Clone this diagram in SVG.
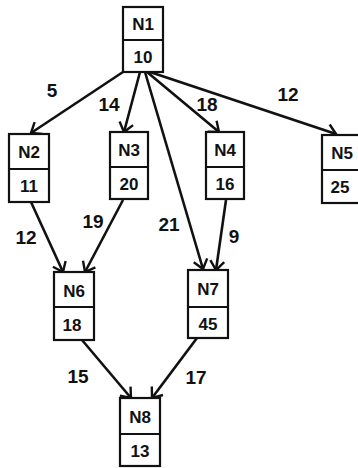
<svg xmlns="http://www.w3.org/2000/svg" width="358" height="468" viewBox="0 0 358 468">
<style>
.box{fill:#fff;stroke:#111;stroke-width:2.2}
.nt{font-family:"Liberation Sans",Arial,sans-serif;font-weight:bold;font-size:17px;fill:#111;text-anchor:middle}
.el{font-family:"Liberation Sans",Arial,sans-serif;font-weight:bold;font-size:19px;fill:#111;text-anchor:middle}
.edge{stroke:#111;stroke-width:2.6;fill:none;marker-end:url(#ah)}
</style>
<defs>
<marker id="ah" markerUnits="userSpaceOnUse" markerWidth="18" markerHeight="18" viewBox="-12 -9 14 18" refX="0" refY="0" orient="auto">
<path d="M-9,-7 L0,0 L-9,7" fill="none" stroke="#111" stroke-width="2.4"/>
</marker>
</defs>
<rect width="358" height="468" fill="#fff"/>
<g id="connectors">
<line class="edge" x1="123" y1="72" x2="31" y2="133"/>
<line class="edge" x1="140" y1="72" x2="124" y2="132"/>
<line class="edge" x1="145" y1="72" x2="203" y2="269"/>
<line class="edge" x1="147" y1="72" x2="219" y2="132"/>
<line class="edge" x1="150" y1="72" x2="336" y2="134"/>
<line class="edge" x1="31" y1="202" x2="63" y2="272"/>
<line class="edge" x1="123" y1="200" x2="85" y2="272"/>
<line class="edge" x1="226" y1="200" x2="216" y2="270"/>
<line class="edge" x1="82" y1="340" x2="131" y2="398"/>
<line class="edge" x1="197" y1="338" x2="152" y2="398"/>
</g>
<g id="labels">
<text class="el" x="52" y="97">5</text>
<text class="el" x="109" y="111">14</text>
<text class="el" x="207" y="111">18</text>
<text class="el" x="288" y="101">12</text>
<text class="el" x="26" y="244">12</text>
<text class="el" x="93" y="228">19</text>
<text class="el" x="169" y="231">21</text>
<text class="el" x="234" y="243">9</text>
<text class="el" x="78" y="383">15</text>
<text class="el" x="196" y="384">17</text>
</g>
<g id="N1"><rect class="box" x="123" y="7" width="40" height="65"/><line class="box" x1="123" y1="40" x2="163" y2="40"/><text class="nt" x="143" y="30">N1</text><text class="nt" x="143" y="63">10</text></g>
<g id="N2"><rect class="box" x="9" y="134" width="40" height="68"/><line class="box" x1="9" y1="169" x2="49" y2="169"/><text class="nt" x="29" y="158">N2</text><text class="nt" x="29" y="192">11</text></g>
<g id="N3"><rect class="box" x="110" y="132" width="38" height="67"/><line class="box" x1="110" y1="167" x2="148" y2="167"/><text class="nt" x="129" y="156">N3</text><text class="nt" x="129" y="190">20</text></g>
<g id="N4"><rect class="box" x="206" y="132" width="38" height="67"/><line class="box" x1="206" y1="167" x2="244" y2="167"/><text class="nt" x="225" y="156">N4</text><text class="nt" x="225" y="190">16</text></g>
<g id="N5"><rect class="box" x="322" y="135" width="40" height="68"/><line class="box" x1="322" y1="170" x2="362" y2="170"/><text class="nt" x="342" y="159">N5</text><text class="nt" x="340" y="193">25</text></g>
<g id="N6"><rect class="box" x="54" y="272" width="40" height="68"/><line class="box" x1="54" y1="307" x2="94" y2="307"/><text class="nt" x="74" y="297">N6</text><text class="nt" x="72" y="331">18</text></g>
<g id="N7"><rect class="box" x="188" y="270" width="40" height="68"/><line class="box" x1="188" y1="307" x2="228" y2="307"/><text class="nt" x="208" y="295">N7</text><text class="nt" x="208" y="330">45</text></g>
<g id="N8"><rect class="box" x="120" y="398" width="40" height="68"/><line class="box" x1="120" y1="434" x2="160" y2="434"/><text class="nt" x="140" y="423">N8</text><text class="nt" x="140" y="457">13</text></g>
</svg>
